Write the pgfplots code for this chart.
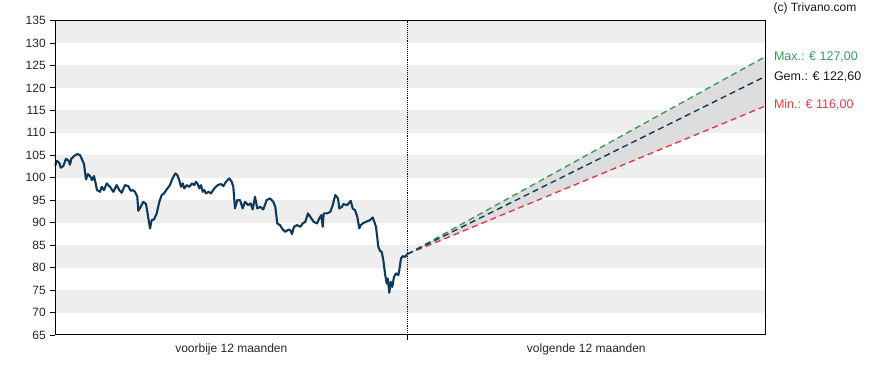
\documentclass[border=0pt]{standalone}
\usepackage{pgfplots}
\pgfplotsset{compat=1.18}
\usepackage{fontspec}
\setmainfont{Liberation Sans}
\definecolor{navy}{HTML}{0D3A5C}
\definecolor{fgreen}{HTML}{3A9A5C}
\definecolor{fred}{HTML}{E63946}
\definecolor{band}{HTML}{EEEEEE}
\definecolor{fan}{HTML}{DDDDDD}
\begin{document}
\begin{tikzpicture}
\begin{axis}[
  scale only axis, width=710.4pt, height=314.5pt,
  xmin=0, xmax=710.4, ymin=65, ymax=135,
  ytick={65,70,...,135},
  ytick pos=left, xtick pos=bottom,
  tick align=outside,
  major tick length=5pt,
  xtick={176,531},
  xticklabels={voorbije 12 maanden, volgende 12 maanden},
  x tick style={draw=none},
  xticklabel style={font=\fontsize{12}{14}\selectfont, text=black!85},
  yticklabel style={font=\fontsize{12}{14}\selectfont, text=black!85, xshift=-1pt},
  /pgf/number format/assume math mode=true,
  axis line style={black, line width=1pt},
  y tick style={black, line width=0.8pt},
  clip=false,
  axis on top,
]
\pgfplotsinvokeforeach{70,80,...,130}{
  \fill[band] (axis cs:0,#1) rectangle (axis cs:710.4,#1+5);
}
\addplot[fill=fan, draw=none] coordinates {(352,83.0) (710.4,127) (710.4,116) (352,83.0)};
\addplot[black, densely dotted, line width=0.9pt] coordinates {(352,65) (352,135)};
\draw[black, line width=0.8pt] (axis cs:352,65) -- ([yshift=-5pt]axis cs:352,65);
\addplot[navy, line width=2.1pt, line join=round] coordinates {
(0,102.66) (1.4,103.78) (4,103.33) (5.4,102.22) (8,102.59) (10.7,104.22) (13.4,103.78) (14.7,102.89) (16,104.22) (18.7,104.82) (22,105.27) (24.7,105.04) (26.7,104.09) (28.7,103.04) (30.7,99.63) (32.7,100.81) (34.7,100.37) (36.7,99.48) (38.7,100.37) (40.2,98.88) (41.7,97.25) (44.7,96.87) (46.4,97.98) (48.7,97.25) (51.4,98.74) (54.7,97.98) (58,96.87) (61.4,98.36) (64,97.25) (66.4,96.65) (69.7,98.36) (73,98.14) (75.4,97.09) (77.4,97.25) (79.7,96.87) (82,95.76) (83,92.64) (85.4,93.53) (88,94.64) (90.7,94.13) (92,92.42) (94.7,88.72) (96.4,90.57) (98.7,90.72) (101.4,92.06) (104,94.64) (106.4,96.14) (108.7,96.51) (111.4,97.41) (114.7,98.36) (116.7,99.6) (120,100.97) (122,100.6) (124,99.48) (125.7,97.98) (127.4,98.74) (129,97.63) (131.4,98.36) (134,97.98) (136.7,98.74) (139,98.36) (140.7,99.10) (142.4,98.6) (144,97.63) (145.7,98.36) (147.4,96.87) (149,97.25) (150.7,96.51) (153.4,96.87) (155.7,96.51) (159,97.63) (162.4,98.36) (165.7,98.6) (168,98.14) (170.7,99.10) (174,99.86) (176.4,99.10) (178,97.98) (179.7,93.17) (182,95.02) (184.7,95.02) (187.4,93.17) (189.7,94.64) (193,93.91) (195.4,94.29) (197.4,92.95) (199.7,95.76) (202,93.17) (204.7,93.53) (208,92.95) (211.4,95.02) (214.7,95.40) (218,94.64) (220,93.53) (222,89.83) (224.7,89.45) (227.4,88.50) (230,87.96) (233.4,88.50) (235.4,88.18) (236.7,87.45) (238.7,89.08) (241.7,89.45) (245,89.08) (247.4,89.83) (250,90.19) (252.7,92.06) (255,91.30) (258.4,90.19) (261.7,89.83) (264,90.95) (266,91.68) (267.4,89.08) (268.4,92.06) (271.7,92.06) (275,92.42) (277.4,93.91) (280,96.14) (282.7,95.40) (284,93.17) (286.7,93.53) (288,94.13) (292,93.91) (295.4,94.87) (297.4,93.17) (299.7,92.80) (302,91.30) (304,88.72) (305.4,89.45) (307.4,89.83) (310.7,90.19) (314.7,90.57) (317.4,91.17) (319,90.19) (320.7,89.08) (323,84.62) (324.7,83.73) (326.4,83.51) (328,81.66) (329.7,78.70) (331.4,76.47) (332.4,77.58) (334,74.4) (335.4,76.83) (337,75.71) (338.7,77.94) (340.7,78.70) (343,78.32) (344,79.43) (345.7,82.04) (347.4,82.55) (349.7,82.39) (352,83.0)
};
\addplot[fred, line width=1.4pt, dash pattern=on 6pt off 4pt] coordinates {(352,83.0) (710.4,116)};
\addplot[fgreen, line width=1.4pt, dash pattern=on 6pt off 4pt] coordinates {(352,83.0) (710.4,127)};
\addplot[navy, line width=1.4pt, dash pattern=on 6pt off 4pt] coordinates {(352,83.0) (710.4,122.6)};
\node[anchor=west, inner sep=0pt, text=fgreen, font=\fontsize{12.5}{14}\selectfont] at (axis cs:718.5,126.87) {Max.: € 127,00};
\node[anchor=west, inner sep=0pt, text=black!90, font=\fontsize{12.5}{14}\selectfont] at (axis cs:718.5,122.42) {Gem.: € 122,60};
\node[anchor=west, inner sep=0pt, text=fred, font=\fontsize{12.5}{14}\selectfont] at (axis cs:718.5,116.3) {Min.: € 116,00};
\node[anchor=west, inner sep=0pt, text=black!90, font=\fontsize{12}{14}\selectfont] at (axis cs:718,137.75) {(c) Trivano.com};
\end{axis}
\path ([xshift=-55.3pt,yshift=-35pt]current axis.south west) rectangle ([xshift=122.3pt,yshift=20.5pt]current axis.north east);
\end{tikzpicture}
\end{document}
